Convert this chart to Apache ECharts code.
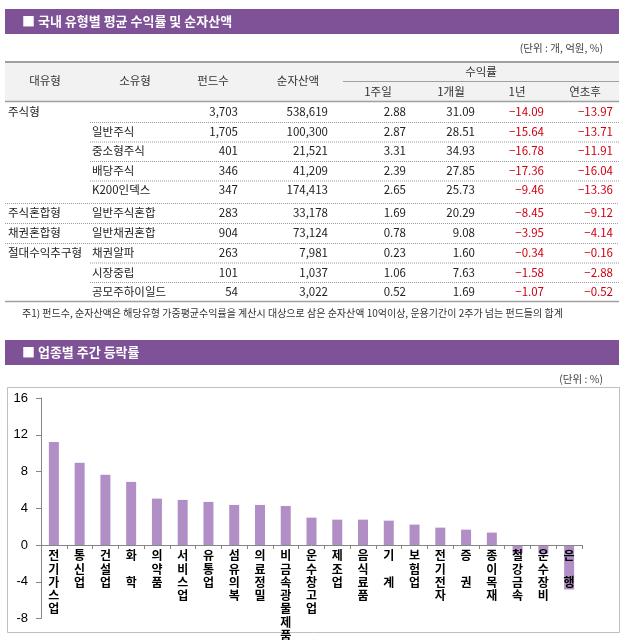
<!DOCTYPE html>
<html><head><meta charset="utf-8">
<script src="https://cdn.jsdelivr.net/npm/echarts@6/dist/echarts.min.js"></script>
<style>html,body{margin:0;padding:0;background:#fff}#c{width:627px;height:640px}</style>
</head><body><div id="c"></div>
<script>
// ---- Table data ----
const bigTypes = ['주식형','','','','','주식혼합형','채권혼합형','절대수익추구형','',''];
const subTypes = ['','일반주식','중소형주식','배당주식','K200인덱스','일반주식혼합','일반채권혼합','채권알파','시장중립','공모주하이일드'];
const fundCounts = [3703,1705,401,346,347,283,904,263,101,54];
const netAssets = [538619,100300,21521,41209,174413,33178,73124,7981,1037,3022];
const ret1w = [2.88,2.87,3.31,2.39,2.65,1.69,0.78,0.23,1.06,0.52];
const ret1m = [31.09,28.51,34.93,27.85,25.73,20.29,9.08,1.60,7.63,1.69];
const ret1y = [-14.09,-15.64,-16.78,-17.36,-9.46,-8.45,-3.95,-0.34,-1.58,-1.07];
const retYtd = [-13.97,-13.71,-11.91,-16.04,-13.36,-9.12,-4.14,-0.16,-2.88,-0.52];
const tableHeaders = ['대유형','소유형','펀드수','순자산액'];
const returnHeader = '수익률';
const returnSubHeaders = ['1주일','1개월','1년','연초후'];
const title1 = '■ 국내 유형별 평균 수익률 및 순자산액';
const unit1 = '(단위 : 개, 억원, %)';
const footnote = '주1) 펀드수, 순자산액은 해당유형 가중평균수익률을 계산시 대상으로 삼은 순자산액 10억이상, 운용기간이 2주가 넘는 펀드들의 합계';

// ---- Chart data ----
const title2 = '■ 업종별 주간 등락률';
const unit2 = '(단위 : %)';
const sectors = ['전기가스업','통신업','건설업','화 학','의약품','서비스업','유통업','섬유의복','의료정밀','비금속광물제품','운수창고업','제조업','음식료품','기 계','보험업','전기전자','증 권','종이목재','철강금속','운수장비','은 행'];
const sectorReturns = [11.2,8.95,7.64,6.87,5.05,4.91,4.69,4.36,4.36,4.25,2.98,2.76,2.76,2.65,2.22,1.89,1.67,1.35,-0.91,-0.95,-4.84];
const yMin = -8, yMax = 16, yStep = 4;

const KR = '"Noto Sans CJK KR", "Noto Sans", sans-serif';
const PURPLE = '#7f5197';
const fmtInt = v => v.toLocaleString('en-US');
const fmtDec = v => (v < 0 ? '−' : '') + Math.abs(v).toFixed(2);

const g = [];
function txt(x, y, s, opt) {
  g.push({type:'text', x:x, y:y, z:10, style:Object.assign({text:s, fill:'#222', font:'11.5px ' + KR, textAlign:'left', textVerticalAlign:'middle'}, opt||{})});
}
function line(x1, y1, x2, y2, stroke, w, dash) {
  g.push({type:'line', z:5, shape:{x1:x1,y1:y1,x2:x2,y2:y2}, style:{stroke:stroke, lineWidth:w||1, lineDash:dash||null}});
}

// Section 1 header
g.push({type:'rect', z:1, shape:{x:5,y:9,width:614,height:25}, style:{fill:PURPLE}});
txt(22, 21.5, title1, {fill:'#fff', font:'bold 13px ' + KR});
txt(603, 48, unit1, {textAlign:'right', fill:'#444', font:'10.5px ' + KR});

// table header
g.push({type:'rect', z:1, shape:{x:5,y:62,width:614,height:39}, style:{fill:'#f2f2f2'}});
line(5, 62, 619, 62, '#a0a0a0', 2);
line(343, 81.5, 619, 81.5, '#a0a0a0', 1);
line(5, 101.5, 619, 101.5, '#a0a0a0', 1.5);
const hdrX = [45, 135, 213, 298];
tableHeaders.forEach((h, i) => txt(hdrX[i], 81, h, {textAlign:'center', fill:'#333'}));
txt(481, 71.5, returnHeader, {textAlign:'center', fill:'#333'});
const subX = [378, 451, 517, 585];
returnSubHeaders.forEach((h, i) => txt(subX[i], 91.5, h, {textAlign:'center', fill:'#333'}));

// rows
const rowY = [112, 131.5, 151, 170.5, 190, 213, 233, 253, 272.5, 291.5];
const colR = [238, 328, 406, 475, 544, 613];
rowY.forEach((y, i) => {
  if (bigTypes[i]) txt(8, y, bigTypes[i]);
  if (subTypes[i]) txt(92, y, subTypes[i]);
  txt(colR[0], y, fmtInt(fundCounts[i]), {textAlign:'right'});
  txt(colR[1], y, fmtInt(netAssets[i]), {textAlign:'right'});
  [ret1w, ret1m, ret1y, retYtd].forEach((arr, k) => {
    const v = arr[i];
    txt(colR[2 + k], y, fmtDec(v), {textAlign:'right', fill: v < 0 ? '#cc0011' : '#222'});
  });
});
// separators
[122, 141.5, 161, 180.5].forEach(y => line(90, y + 0.5, 619, y + 0.5, '#9a9a9a', 1, [1, 1]));
[203, 223, 243].forEach(y => line(5, y + 0.5, 619, y + 0.5, '#9a9a9a', 1, [1, 1]));
[262.5, 282].forEach(y => line(90, y + 0.5, 619, y + 0.5, '#9a9a9a', 1, [1, 1]));
line(5, 301.5, 619, 301.5, '#a0a0a0', 1.5);
txt(22, 313, footnote, {font:'10px ' + KR, fill:'#333'});

// Section 2 header
g.push({type:'rect', z:1, shape:{x:5,y:340,width:614,height:25}, style:{fill:PURPLE}});
txt(22, 352.5, title2, {fill:'#fff', font:'bold 13px ' + KR});
txt(603, 379, unit2, {textAlign:'right', fill:'#444', font:'10.5px ' + KR});
g.push({type:'rect', z:0, shape:{x:7.5,y:387.5,width:612,height:245}, style:{fill:'none', stroke:'#bfbfbf', lineWidth:1}});

const GRID = {left: 41, right: 45, top: 398, bottom: 21.5};
const gridH = 640 - GRID.top - GRID.bottom;
// move the category axis up to the value-0 line
const zeroOffset = -gridH * (0 - yMin) / (yMax - yMin);

const chart = echarts.init(document.getElementById('c'), null, {renderer:'canvas'});
chart.setOption({
  animation: false,
  graphic: g,
  grid: Object.assign({outerBoundsMode: 'none'}, GRID),
  xAxis: {
    type: 'category', data: sectors, z: 10, position: 'bottom', offset: zeroOffset,
    axisLine: {onZero: false, lineStyle: {color: '#868686'}},
    axisTick: {show: true, length: 4, lineStyle: {color: '#868686'}},
    axisLabel: {
      interval: 0, margin: 4, color: '#000', fontWeight: 'bold', fontSize: 12,
      lineHeight: 13.3, fontFamily: KR,
      formatter: v => v.split('').join('\n')
    }
  },
  yAxis: {
    type: 'value', min: yMin, max: yMax, interval: yStep,
    splitLine: {show: false},
    axisLine: {show: true, lineStyle: {color: '#868686'}},
    axisTick: {show: true, length: 5, lineStyle: {color: '#868686'}},
    axisLabel: {margin: 13, color: '#000', fontSize: 13, fontFamily: '"Liberation Sans", Arial, sans-serif'}
  },
  series: [{
    type: 'bar', data: sectorReturns, barWidth: 10,
    itemStyle: {color: '#b18fc6'}
  }]
});
</script></body></html>
